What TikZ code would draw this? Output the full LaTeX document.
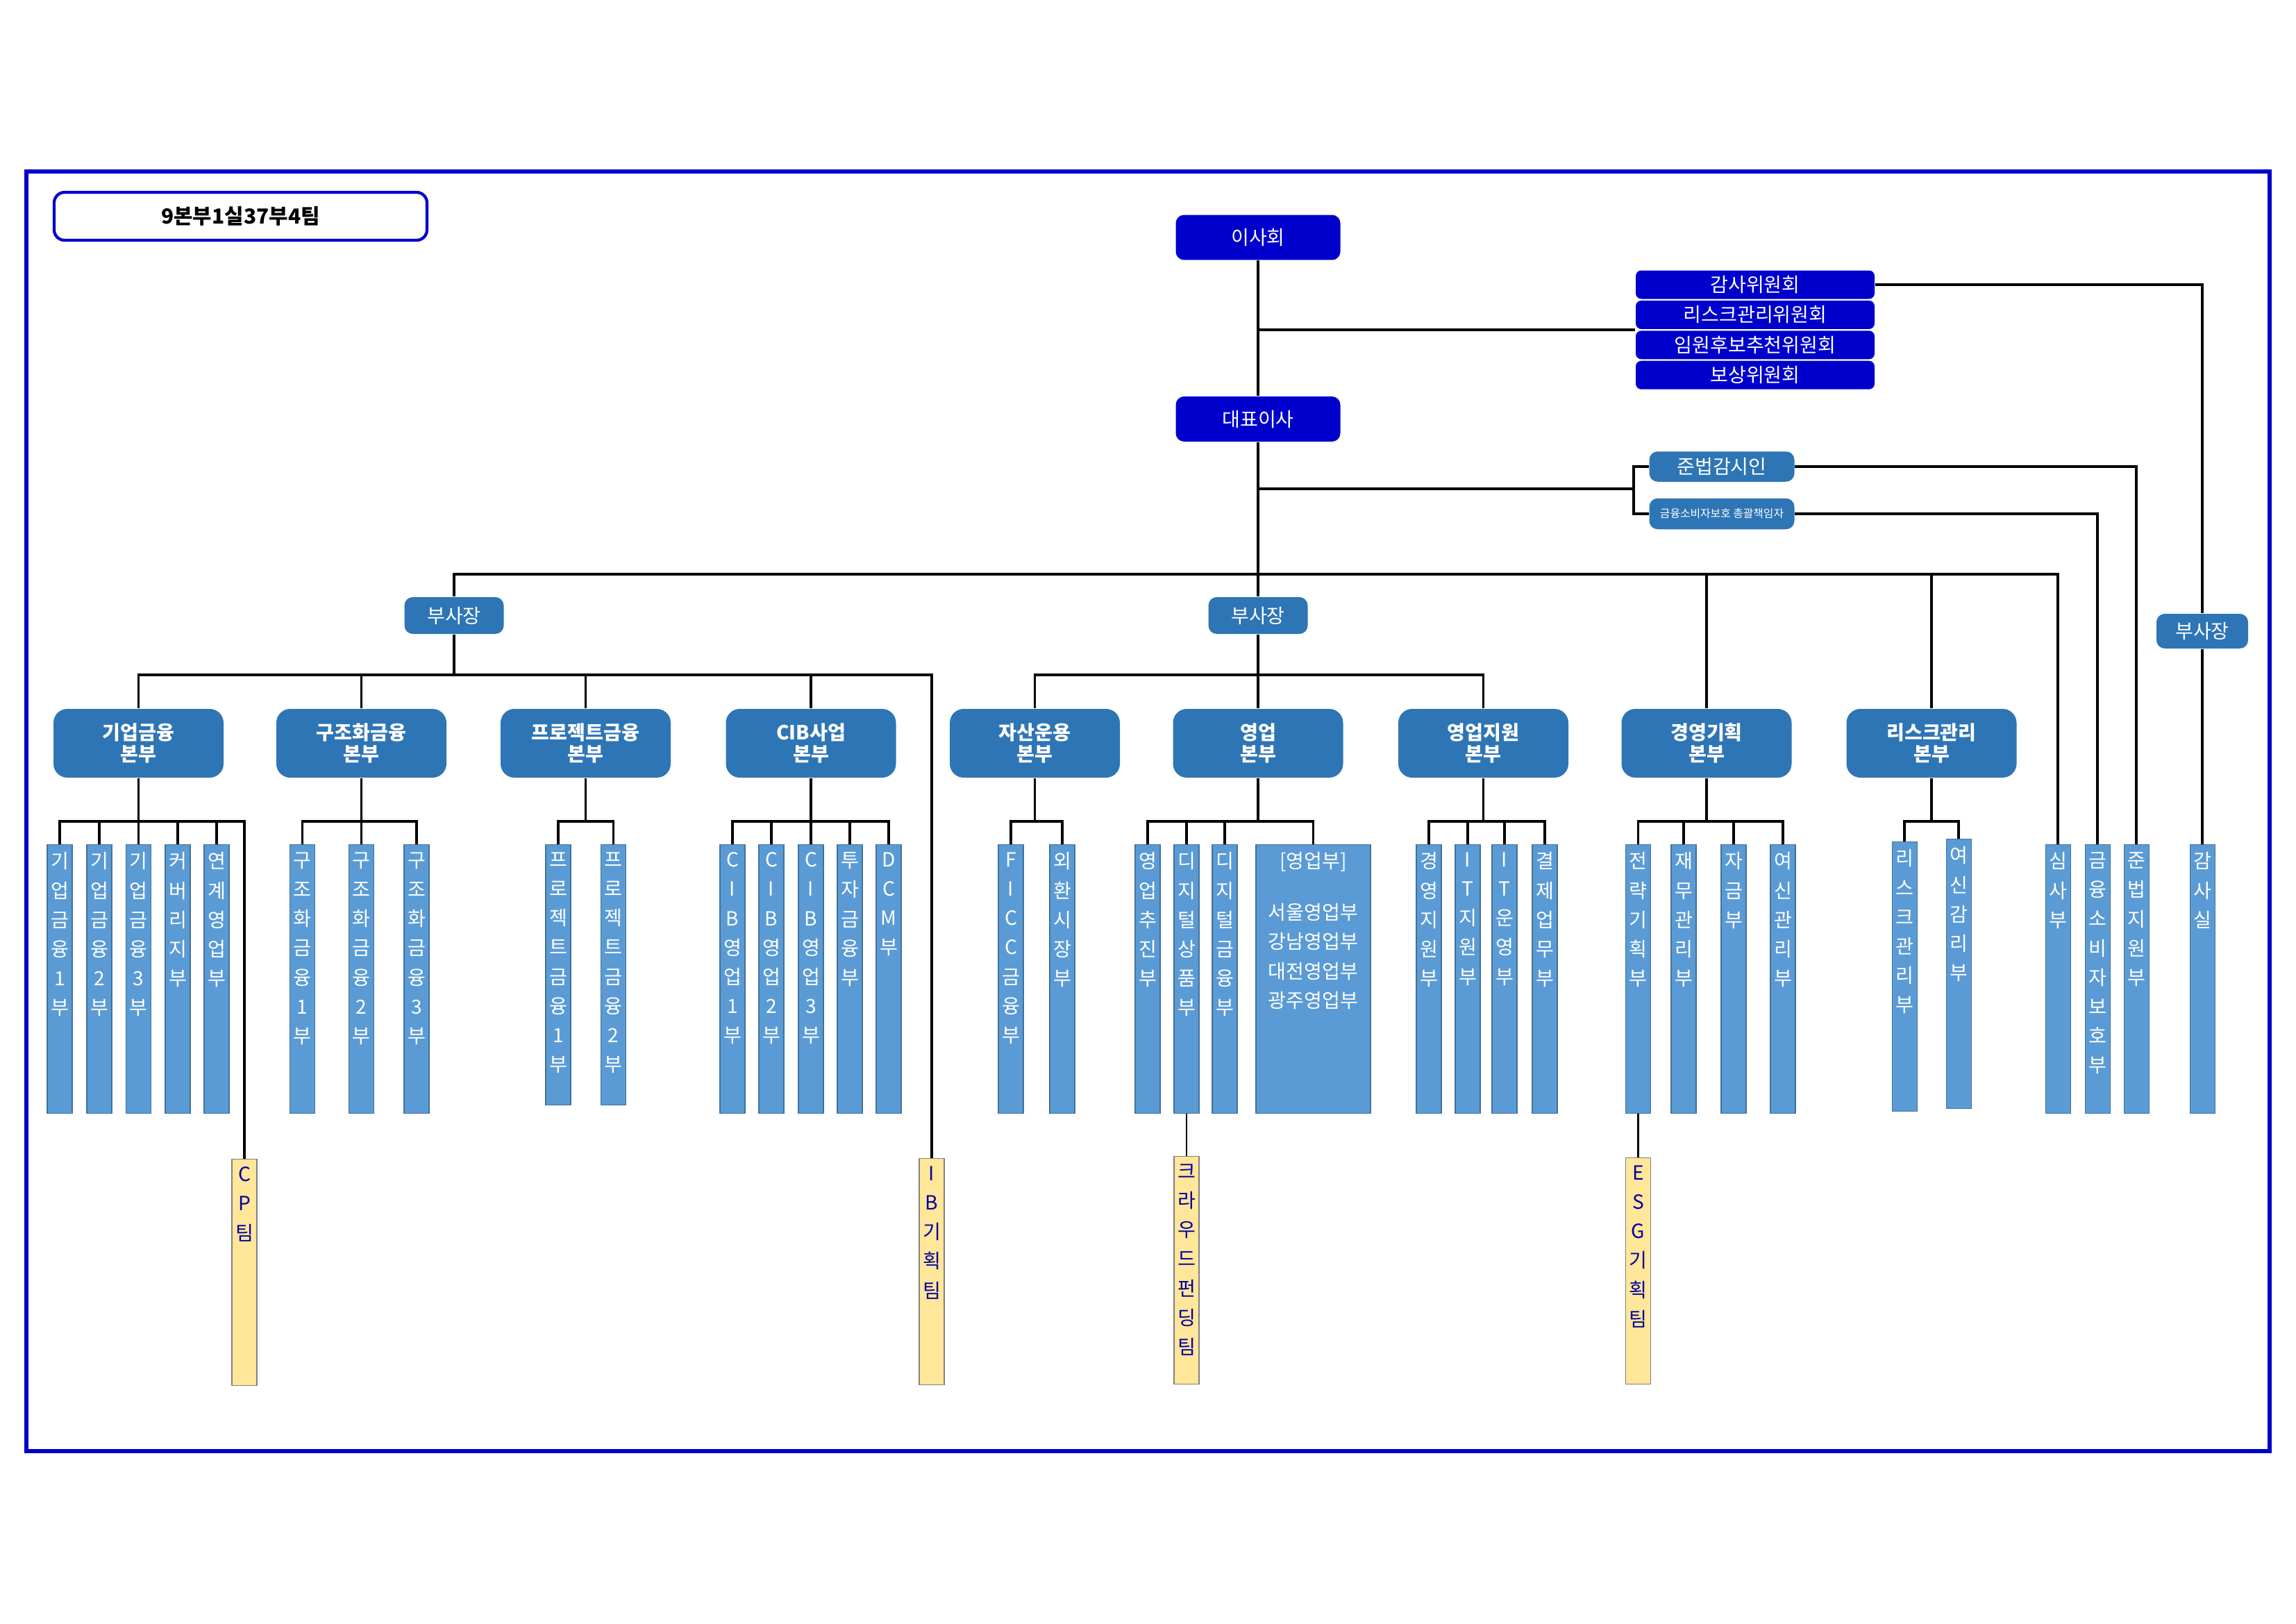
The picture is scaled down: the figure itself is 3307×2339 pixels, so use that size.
\documentclass[tikz,border=0pt]{standalone}
\usepackage{fontspec}
\setmainfont{Noto Sans CJK KR}
\usetikzlibrary{positioning}

\definecolor{boardblue}{RGB}{0,0,204}
\definecolor{hqblue}{RGB}{46,117,182}
\definecolor{deptfill}{RGB}{91,155,213}
\definecolor{deptline}{RGB}{65,113,156}
\definecolor{teamfill}{RGB}{255,230,153}
\definecolor{teamtext}{RGB}{0,0,160}

\begin{document}
\begin{tikzpicture}[x=0.1mm,y=-0.1mm,
  every node/.style={align=center,inner sep=0pt,text=white},
  conn/.style={line width=1.1pt},
  board/.style={fill=boardblue,rounded corners=1.2mm,minimum width=23.7mm,minimum height=6.5mm,font=\fontsize{8}{9}\selectfont},
  cmte/.style={fill=boardblue,rounded corners=0.8mm,minimum width=34.4mm,minimum height=4.1mm,font=\fontsize{8}{9}\selectfont},
  vp/.style={fill=hqblue,rounded corners=1.2mm,minimum width=14.3mm,minimum height=5.3mm,font=\fontsize{8}{9}\selectfont},
  hq/.style={fill=hqblue,rounded corners=2mm,minimum width=24.5mm,minimum height=9.9mm,font=\bfseries\fontsize{8}{8.8}\selectfont},
  vtext/.style={anchor=north,yshift=-1.1mm,text=white,font=\fontsize{8}{12}\selectfont},
  dept/.style={draw=deptline,line width=0.3pt,fill=deptfill,anchor=north,minimum width=3.6mm,minimum height=38.7mm,label={[vtext]north:{#1}}},
  team/.style={draw=gray,line width=0.3pt,fill=teamfill,anchor=north,minimum width=3.6mm,minimum height=32.6mm,label={[vtext,text=teamtext]north:{#1}}}]

  \useasboundingbox (0,0) rectangle (3307,2339);
  \draw[boardblue,line width=1.5pt] (38,247) rectangle (3269,2090);
  \node[draw=boardblue,line width=1.2pt,rounded corners=1.5mm,fill=white,minimum width=53.7mm,minimum height=6.9mm,text=black,font=\bfseries\fontsize{8.5}{9}\selectfont] (title) at (346.5,311.5) {9본부1실37부4팀};

  % board and committees
  \node[board] (board) at (1812,342) {이사회};
  \node[board] (ceo) at (1812,603.5) {대표이사};
  \node[cmte] (cm1) at (2528,410) {감사위원회};
  \node[cmte,below=0.1mm of cm1] (cm2) {리스크관리위원회};
  \node[cmte,below=0.1mm of cm2] (cm3) {임원후보추천위원회};
  \node[cmte,below=0.1mm of cm3] (cm4) {보상위원회};
  \node[vp,minimum width=20.9mm,minimum height=4.35mm] (comp) at (2480,672) {준법감시인};
  \node[vp,minimum width=20.9mm,minimum height=4.45mm,font=\fontsize{4.5}{5}\selectfont] (cpo) at (2480,740) {금융소비자보호 총괄책임자};

  \node[vp] (vpL) at (654,886.5) {부사장};
  \node[vp] (vpM) at (1812,886.5) {부사장};
  \node[vp,minimum width=13.2mm,minimum height=5mm] (vpR) at (3172,909) {부사장};

  % headquarters
  \node[hq] (cf) at (199.5,1070.5) {기업금융\\본부};
  \node[hq] (sf) at (520.5,1070.5) {구조화금융\\본부};
  \node[hq] (pf) at (843.5,1070.5) {프로젝트금융\\본부};
  \node[hq] (cib) at (1168,1070.5) {CIB사업\\본부};
  \node[hq] (am) at (1490.5,1070.5) {자산운용\\본부};
  \node[hq] (sales) at (1812,1070.5) {영업\\본부};
  \node[hq] (ss) at (2136.5,1070.5) {영업지원\\본부};
  \node[hq] (mp) at (2458,1070.5) {경영기획\\본부};
  \node[hq] (rm) at (2782,1070.5) {리스크관리\\본부};

  % departments
  \node[dept={기\\업\\금\\융\\1\\부}] (cf1) at (86,1216) {};
  \node[dept={기\\업\\금\\융\\2\\부}] (cf2) at (143,1216) {};
  \node[dept={기\\업\\금\\융\\3\\부}] (cf3) at (199.5,1216) {};
  \node[dept={커\\버\\리\\지\\부}] (cov) at (256,1216) {};
  \node[dept={연\\계\\영\\업\\부}] (link) at (312,1216) {};

  \node[dept={구\\조\\화\\금\\융\\1\\부}] (sf1) at (435.5,1216) {};
  \node[dept={구\\조\\화\\금\\융\\2\\부}] (sf2) at (520.5,1216) {};
  \node[dept={구\\조\\화\\금\\융\\3\\부}] (sf3) at (600,1216) {};

  \node[dept={프\\로\\젝\\트\\금\\융\\1\\부},minimum height=37.5mm] (pf1) at (804,1216) {};
  \node[dept={프\\로\\젝\\트\\금\\융\\2\\부},minimum height=37.5mm] (pf2) at (883.5,1216) {};

  \node[dept={C\\I\\B\\영\\업\\1\\부}] (cib1) at (1055,1216) {};
  \node[dept={C\\I\\B\\영\\업\\2\\부}] (cib2) at (1111,1216) {};
  \node[dept={C\\I\\B\\영\\업\\3\\부}] (cib3) at (1168,1216) {};
  \node[dept={투\\자\\금\\융\\부}] (inv) at (1224,1216) {};
  \node[dept={D\\C\\M\\부}] (dcm) at (1280,1216) {};

  \node[dept={F\\I\\C\\C\\금\\융\\부}] (ficc) at (1456,1216) {};
  \node[dept={외\\환\\시\\장\\부}] (fx) at (1530,1216) {};

  \node[dept={영\\업\\추\\진\\부}] (spr) at (1653,1216) {};
  \node[dept={디\\지\\털\\상\\품\\부}] (dprod) at (1709,1216) {};
  \node[dept={디\\지\\털\\금\\융\\부}] (dfin) at (1764,1216) {};
  \node[dept={[영업부]\\[9pt]서울영업부\\강남영업부\\대전영업부\\광주영업부},minimum width=16.5mm] (branch) at (1891.5,1216) {};

  \node[dept={경\\영\\지\\원\\부}] (msup) at (2058,1216) {};
  \node[dept={I\\T\\지\\원\\부}] (itsup) at (2114,1216) {};
  \node[dept={I\\T\\운\\영\\부}] (itop) at (2167,1216) {};
  \node[dept={결\\제\\업\\무\\부}] (pay) at (2225,1216) {};

  \node[dept={전\\략\\기\\획\\부}] (strat) at (2359.5,1216) {};
  \node[dept={재\\무\\관\\리\\부}] (fin) at (2425,1216) {};
  \node[dept={자\\금\\부}] (fund) at (2497,1216) {};
  \node[dept={여\\신\\관\\리\\부}] (crmg) at (2568,1216) {};

  \node[dept={리\\스\\크\\관\\리\\부},minimum height=38.8mm] (risk) at (2743,1212) {};
  \node[dept={여\\신\\감\\리\\부},minimum height=38.8mm] (review) at (2821,1208) {};

  \node[dept={심\\사\\부}] (jsim) at (2964,1216) {};
  \node[dept={금\\융\\소\\비\\자\\보\\호\\부}] (cprot) at (3021,1216) {};
  \node[dept={준\\법\\지\\원\\부}] (cmpl) at (3077,1216) {};
  \node[dept={감\\사\\실}] (audit) at (3172,1216) {};

  % teams
  \node[team={C\\P\\팀}] (cpt) at (352,1669) {};
  \node[team={I\\B\\기\\획\\팀}] (ibp) at (1342,1668) {};
  \node[team={크\\라\\우\\드\\펀\\딩\\팀},minimum height=32.8mm] (crowd) at (1709,1665) {};
  \node[team={E\\S\\G\\기\\획\\팀}] (esg) at (2359.5,1667) {};

  % connectors
  \coordinate (mbus) at (1812,827);
  \coordinate (lbus) at (654,972);
  \coordinate (rbus) at (1812,972);
  \coordinate (dbus) at (0,1183);
  \coordinate (cj) at (2353,704);

  \draw[conn] (board.south) -- (ceo.north);
  \draw[conn] (ceo.south) -- (vpM.north);
  \draw[conn] (cm2.south west) -- (cm2.south west -| board);
  \draw[conn] (cm1.east) -| (vpR.north);
  \draw[conn] (vpR.south) -- (audit.north);
  \draw[conn] (comp.west) -- (comp.west -| cj) |- (cpo.west);
  \draw[conn] (cj -| ceo) -- (cj);
  \draw[conn] (comp.east) -| (cmpl.north);
  \draw[conn] (cpo.east) -| (cprot.north);

  \draw[conn] (vpL.north) |- (mbus) -| (jsim.north);
  \draw[conn] (mp.north) -- (mp.north |- mbus);
  \draw[conn] (rm.north) -- (rm.north |- mbus);

  \draw[conn] (cf.north) |- (lbus) -| (ibp.north);
  \draw[conn] (vpL.south) -- (lbus);
  \draw[conn] (sf.north) -- (sf.north |- lbus) (pf.north) -- (pf.north |- lbus) (cib.north) -- (cib.north |- lbus);
  \draw[conn] (am.north) |- (rbus) -| (ss.north);
  \draw[conn] (vpM.south) -- (sales.north);

  \draw[conn] (cf.south) -- (cf.south |- dbus);
  \draw[conn] (cf1.north) |- (dbus -| cpt.north) -- (cpt.north);
  \draw[conn] (cf2.north) -- (cf2.north |- dbus) (cf3.north) -- (cf3.north |- dbus) (cov.north) -- (cov.north |- dbus) (link.north) -- (link.north |- dbus);

  \draw[conn] (sf.south) -- (sf.south |- dbus);
  \draw[conn] (sf1.north) |- (dbus -| sf3.north) -- (sf3.north);
  \draw[conn] (sf2.north) -- (sf2.north |- dbus);

  \draw[conn] (pf.south) -- (pf.south |- dbus);
  \draw[conn] (pf1.north) |- (dbus -| pf2.north) -- (pf2.north);

  \draw[conn] (cib.south) -- (cib.south |- dbus);
  \draw[conn] (cib1.north) |- (dbus -| dcm.north) -- (dcm.north);
  \draw[conn] (cib2.north) -- (cib2.north |- dbus) (cib3.north) -- (cib3.north |- dbus) (inv.north) -- (inv.north |- dbus);

  \draw[conn] (am.south) -- (am.south |- dbus);
  \draw[conn] (ficc.north) |- (dbus -| fx.north) -- (fx.north);

  \draw[conn] (sales.south) -- (sales.south |- dbus);
  \draw[conn] (spr.north) |- (dbus -| branch.north) -- (branch.north);
  \draw[conn] (dprod.north) -- (dprod.north |- dbus) (dfin.north) -- (dfin.north |- dbus);

  \draw[conn] (ss.south) -- (ss.south |- dbus);
  \draw[conn] (msup.north) |- (dbus -| pay.north) -- (pay.north);
  \draw[conn] (itsup.north) -- (itsup.north |- dbus) (itop.north) -- (itop.north |- dbus);

  \draw[conn] (mp.south) -- (mp.south |- dbus);
  \draw[conn] (strat.north) |- (dbus -| crmg.north) -- (crmg.north);
  \draw[conn] (fin.north) -- (fin.north |- dbus) (fund.north) -- (fund.north |- dbus);

  \draw[conn] (rm.south) -- (rm.south |- dbus);
  \draw[conn] (risk.north) |- (dbus -| review.north) -- (review.north);

  \draw[conn,line width=0.8pt] (dprod.south) -- (crowd.north);
  \draw[conn,line width=0.8pt] (strat.south) -- (esg.north);

\end{tikzpicture}
\end{document}
